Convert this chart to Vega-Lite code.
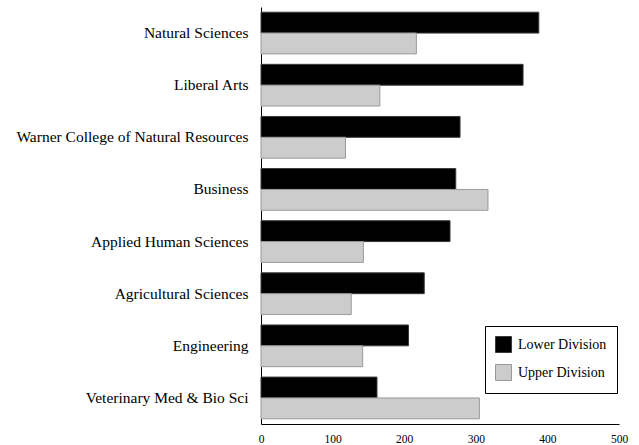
{
  "$schema": "https://vega.github.io/schema/vega-lite/v6.json",
  "autosize": "none",
  "width": 358,
  "height": 417,
  "padding": {"left": 261, "top": 7, "right": 20, "bottom": 21},
  "background": "white",
  "data": {"values": [
    {"college": "Natural Sciences", "division": "Lower Division", "count": 388},
    {"college": "Natural Sciences", "division": "Upper Division", "count": 217},
    {"college": "Liberal Arts", "division": "Lower Division", "count": 366},
    {"college": "Liberal Arts", "division": "Upper Division", "count": 166},
    {"college": "Warner College of Natural Resources", "division": "Lower Division", "count": 278},
    {"college": "Warner College of Natural Resources", "division": "Upper Division", "count": 118},
    {"college": "Business", "division": "Lower Division", "count": 272},
    {"college": "Business", "division": "Upper Division", "count": 317},
    {"college": "Applied Human Sciences", "division": "Lower Division", "count": 264},
    {"college": "Applied Human Sciences", "division": "Upper Division", "count": 143},
    {"college": "Agricultural Sciences", "division": "Lower Division", "count": 228},
    {"college": "Agricultural Sciences", "division": "Upper Division", "count": 126},
    {"college": "Engineering", "division": "Lower Division", "count": 206},
    {"college": "Engineering", "division": "Upper Division", "count": 142},
    {"college": "Veterinary Med & Bio Sci", "division": "Lower Division", "count": 162},
    {"college": "Veterinary Med & Bio Sci", "division": "Upper Division", "count": 305}
  ]},
  "mark": {"type": "bar", "strokeWidth": 1},
  "encoding": {
    "y": {
      "field": "college", "type": "nominal", "sort": null,
      "scale": {"paddingInner": 0.2, "paddingOuter": 0.1},
      "axis": {"title": null, "ticks": false, "labelPadding": 13, "labelFont": "Liberation Serif", "labelFontSize": 15.5, "labelColor": "#000", "domainColor": "#000", "labelLimit": 300}
    },
    "yOffset": {"field": "division", "type": "nominal", "sort": ["Lower Division", "Upper Division"]},
    "x": {
      "field": "count", "type": "quantitative",
      "scale": {"domain": [0, 500], "nice": false},
      "axis": {"title": null, "values": [0, 100, 200, 300, 400, 500], "ticks": false, "grid": false, "labelPadding": 9, "labelFont": "Liberation Serif", "labelFontSize": 11.5, "labelColor": "#000", "domainColor": "#000", "labelFlush": false}
    },
    "fill": {
      "field": "division", "type": "nominal",
      "scale": {"domain": ["Lower Division", "Upper Division"], "range": ["#000000", "#cccccc"]},
      "legend": {
        "title": null, "orient": "none", "legendX": 224, "legendY": 319,
        "symbolType": "square", "symbolSize": 256, "symbolStrokeWidth": 1,
        "labelFont": "Liberation Serif", "labelFontSize": 14, "labelColor": "#000",
        "labelOffset": 6, "rowPadding": 7, "padding": 10,
        "strokeColor": "#000", "fillColor": "white"
      }
    },
    "stroke": {
      "field": "division", "type": "nominal",
      "scale": {"domain": ["Lower Division", "Upper Division"], "range": ["#3a3a3a", "#9a9a9a"]}
    }
  },
  "config": {"view": {"stroke": null}}
}
